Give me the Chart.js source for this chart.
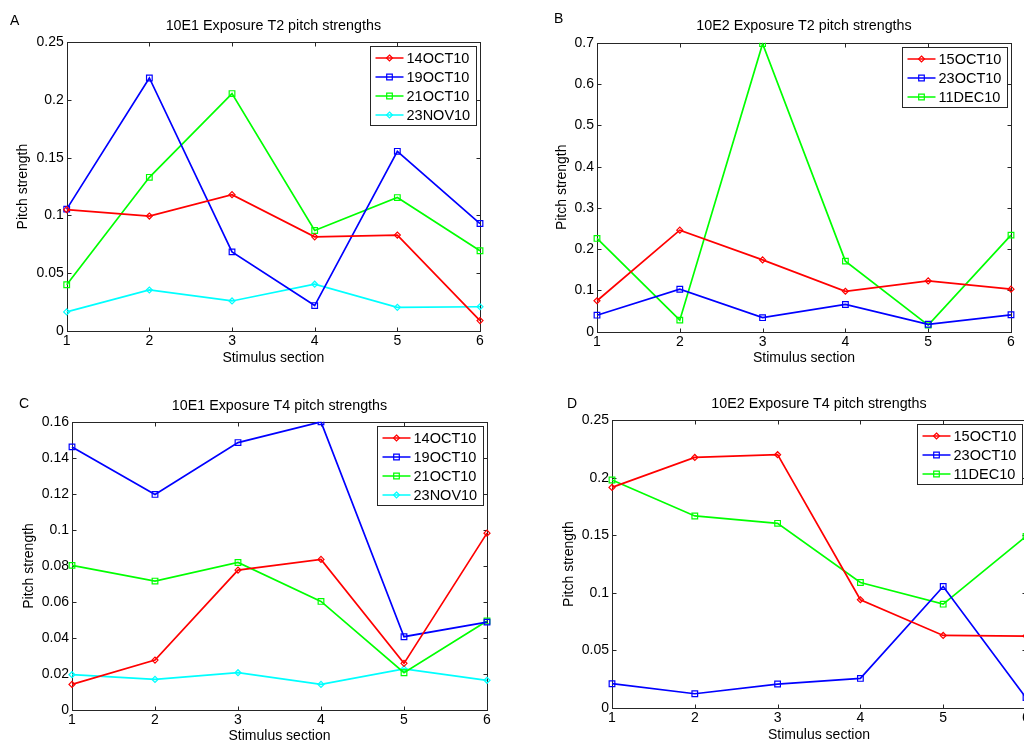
<!DOCTYPE html>
<html lang="en">
<head>
<meta charset="UTF-8">
<title>Pitch strengths</title>
<script src="https://cdn.jsdelivr.net/npm/chart.js@4"></script>
<style>
  body {
    margin: 0;
    width: 1024px;
    height: 742px;
    overflow: hidden;
    position: relative;
    background: #fff;
    font-family: 'Liberation Sans', Arial, sans-serif;
  }
  .panel { position: absolute; }
  .letter { position: absolute; font-size: 14px; line-height: 16px; color: #000; }
</style>
</head>
<body>
<div class="panel" style="left:0;top:0"><canvas id="chartA" width="512" height="370"></canvas></div>
<div class="panel" style="left:512px;top:0"><canvas id="chartB" width="512" height="370"></canvas></div>
<div class="panel" style="left:0;top:370px"><canvas id="chartC" width="512" height="380"></canvas></div>
<div class="panel" style="left:512px;top:370px"><canvas id="chartD" width="560" height="380"></canvas></div>
<div class="letter" style="left:10px;top:12px">A</div>
<div class="letter" style="left:554px;top:10px">B</div>
<div class="letter" style="left:19px;top:395px">C</div>
<div class="letter" style="left:567px;top:395px">D</div>

<script>
const sections = ['1', '2', '3', '4', '5', '6'];

// A: 10E1 Exposure T2
const a14OCT10 = [0.105, 0.0995, 0.118, 0.0815, 0.083, 0.009];
const a19OCT10 = [0.1055, 0.219, 0.0685, 0.022, 0.1555, 0.093];
const a21OCT10 = [0.04, 0.133, 0.2055, 0.087, 0.1155, 0.0695];
const a23NOV10 = [0.0165, 0.0355, 0.026, 0.0405, 0.0205, 0.021];

// B: 10E2 Exposure T2
const b15OCT10 = [0.075, 0.246, 0.174, 0.098, 0.123, 0.103];
const b23OCT10 = [0.04, 0.103, 0.034, 0.066, 0.018, 0.041];
const b11DEC10 = [0.226, 0.028, 0.698, 0.171, 0.016, 0.234];

// C: 10E1 Exposure T4
const c14OCT10 = [0.0142, 0.0277, 0.0777, 0.0836, 0.0259, 0.0982];
const c19OCT10 = [0.1461, 0.1197, 0.1485, 0.16, 0.0407, 0.0488];
const c21OCT10 = [0.0803, 0.0716, 0.0819, 0.0603, 0.0207, 0.0494];
const c23NOV10 = [0.0196, 0.017, 0.0207, 0.0142, 0.0228, 0.0165];

// D: 10E2 Exposure T4
const d15OCT10 = [0.1916, 0.2176, 0.22, 0.094, 0.063, 0.0625];
const d23OCT10 = [0.0211, 0.0124, 0.0208, 0.0257, 0.1055, 0.009];
const d11DEC10 = [0.198, 0.1668, 0.1604, 0.109, 0.0902, 0.149];

// y tick labels
const ticksA = [0, 0.05, 0.1, 0.15, 0.2, 0.25];
const ticksB = [0, 0.1, 0.2, 0.3, 0.4, 0.5, 0.6, 0.7];
const ticksC = [0, 0.02, 0.04, 0.06, 0.08, 0.1, 0.12, 0.14, 0.16];
const ticksD = [0, 0.05, 0.1, 0.15, 0.2, 0.25];

const RED = '#ff0000', BLUE = '#0000ff', GREEN = '#00ff00', CYAN = '#00ffff';
const FONT = "'Liberation Sans', Arial, sans-serif";

Chart.defaults.font.family = FONT;
Chart.defaults.font.size = 14;
Chart.defaults.color = '#000';

function series(label, data, color, marker) {
    const square = marker === 's';
    return {
        label, data, marker,
        borderColor: color,
        borderWidth: 1.7,
        fill: false,
        tension: 0,
        pointStyle: square ? 'rect' : 'rectRot',
        pointRadius: square ? 4 : 3,
        pointBorderWidth: 1.2,
        pointBorderColor: color,
        pointBackgroundColor: 'rgba(0,0,0,0)',
        pointHoverRadius: 0
    };
}

function drawMarker(ctx, kind, cx, cy, color) {
    ctx.strokeStyle = color;
    ctx.lineWidth = 1.2;
    ctx.beginPath();
    if (kind === 's') {
        ctx.rect(cx - 2.8, cy - 2.8, 5.6, 5.6);
    } else {
        ctx.moveTo(cx, cy - 3);
        ctx.lineTo(cx + 3, cy);
        ctx.lineTo(cx, cy + 3);
        ctx.lineTo(cx - 3, cy);
        ctx.closePath();
    }
    ctx.stroke();
}

// matlab style box, inward ticks on all sides and legend inside top right
const matlabAxes = {
    id: 'matlabAxes',
    beforeDatasetsDraw(chart) {
        const { ctx, chartArea: a, scales: { x, y } } = chart;
        const l = Math.round(a.left) + 0.5, r = Math.round(a.right) + 0.5;
        const t = Math.round(a.top) + 0.5, b = Math.round(a.bottom) + 0.5;
        const len = 4;
        ctx.save();
        ctx.strokeStyle = '#262626';
        ctx.lineWidth = 1;
        ctx.strokeRect(l, t, r - l, b - t);
        ctx.beginPath();
        x.ticks.forEach((tk, i) => {
            const px = Math.round(x.getPixelForTick(i)) + 0.5;
            ctx.moveTo(px, b); ctx.lineTo(px, b - len);
            ctx.moveTo(px, t); ctx.lineTo(px, t + len);
        });
        y.ticks.forEach(tk => {
            const py = Math.round(y.getPixelForValue(tk.value)) + 0.5;
            ctx.moveTo(l, py); ctx.lineTo(l + len, py);
            ctx.moveTo(r, py); ctx.lineTo(r - len, py);
        });
        ctx.stroke();
        ctx.restore();
    },
    afterDatasetsDraw(chart) {
        const { ctx, chartArea: a } = chart;
        const ds = chart.data.datasets;
        ctx.save();
        ctx.font = '14.5px ' + FONT;
        const tw = Math.max(...ds.map(d => ctx.measureText(d.label).width));
        const w = Math.round(36 + tw + 6), h = ds.length * 19 + 3;
        const bx = Math.round(a.right - 4 - w) + 0.5, by = Math.round(a.top + 4) + 0.5;
        ctx.fillStyle = '#fff';
        ctx.fillRect(bx, by, w, h);
        ctx.strokeStyle = '#262626';
        ctx.lineWidth = 1;
        ctx.strokeRect(bx, by, w, h);
        ds.forEach((d, i) => {
            const cy = Math.round(by + 11 + i * 19);
            ctx.strokeStyle = d.borderColor;
            ctx.lineWidth = 1.5;
            ctx.beginPath();
            ctx.moveTo(bx + 5, cy);
            ctx.lineTo(bx + 33, cy);
            ctx.stroke();
            drawMarker(ctx, d.marker, bx + 19, cy, d.borderColor);
            ctx.fillStyle = '#000';
            ctx.textBaseline = 'middle';
            ctx.textAlign = 'left';
            ctx.fillText(d.label, bx + 36, cy + 1);
        });
        ctx.restore();
    }
};

function makeChart(id, title, datasets, ticks, p) {
    return new Chart(document.getElementById(id), {
        type: 'line',
        data: { labels: sections, datasets },
        options: {
            responsive: false,
            animation: false,
            events: [],
            layout: { padding: { left: 0, right: p.right, top: 0, bottom: 0 } },
            plugins: {
                legend: { display: false },
                tooltip: { enabled: false },
                title: {
                    display: true,
                    text: title,
                    fullSize: false,
                    color: '#000',
                    font: { size: 14.3, weight: 'normal' },
                    padding: { top: p.titleTop, bottom: p.titleBottom }
                }
            },
            scales: {
                x: {
                    grid: { display: false, drawTicks: false },
                    border: { display: false },
                    ticks: { padding: 2, maxRotation: 0, autoSkip: false },
                    title: { display: true, text: 'Stimulus section', padding: { top: 0, bottom: p.xTitle } },
                    afterFit: s => { s.height = p.xHeight; }
                },
                y: {
                    min: ticks[0],
                    max: ticks[ticks.length - 1],
                    grid: { display: false, drawTicks: false },
                    border: { display: false },
                    ticks: { padding: 3, callback: v => String(+Number(v).toFixed(3)) },
                    afterBuildTicks: s => { s.ticks = ticks.map(v => ({ value: v })); },
                    title: { display: true, text: 'Pitch strength', padding: { top: p.yTitle, bottom: 0 } },
                    afterFit: s => { s.width = p.yWidth; }
                }
            }
        },
        plugins: [matlabAxes]
    });
}

makeChart('chartA', '10E1 Exposure T2 pitch strengths', [
    series('14OCT10', a14OCT10, RED, 'd'),
    series('19OCT10', a19OCT10, BLUE, 's'),
    series('21OCT10', a21OCT10, GREEN, 's'),
    series('23NOV10', a23NOV10, CYAN, 'd')
], ticksA, { right: 32, titleTop: 17.4, titleBottom: 7.6, xHeight: 39, xTitle: 3.6, yWidth: 66.7, yTitle: 14.6 });

makeChart('chartB', '10E2 Exposure T2 pitch strengths', [
    series('15OCT10', b15OCT10, RED, 'd'),
    series('23OCT10', b23OCT10, BLUE, 's'),
    series('11DEC10', b11DEC10, GREEN, 's')
], ticksB, { right: 13, titleTop: 17.4, titleBottom: 8.3, xHeight: 38.3, xTitle: 3.6, yWidth: 85, yTitle: 41.6 });

makeChart('chartC', '10E1 Exposure T4 pitch strengths', [
    series('14OCT10', c14OCT10, RED, 'd'),
    series('19OCT10', c19OCT10, BLUE, 's'),
    series('21OCT10', c21OCT10, GREEN, 's'),
    series('23NOV10', c23NOV10, CYAN, 'd')
], ticksC, { right: 25, titleTop: 27.4, titleBottom: 7.3, xHeight: 40, xTitle: 5.6, yWidth: 72, yTitle: 20.6 });

makeChart('chartD', '10E2 Exposure T4 pitch strengths', [
    series('15OCT10', d15OCT10, RED, 'd'),
    series('23OCT10', d23OCT10, BLUE, 's'),
    series('11DEC10', d11DEC10, GREEN, 's')
], ticksD, { right: 46, titleTop: 25.4, titleBottom: 7.6, xHeight: 42, xTitle: 6.6, yWidth: 100, yTitle: 48.6 });
</script>
</body>
</html>
